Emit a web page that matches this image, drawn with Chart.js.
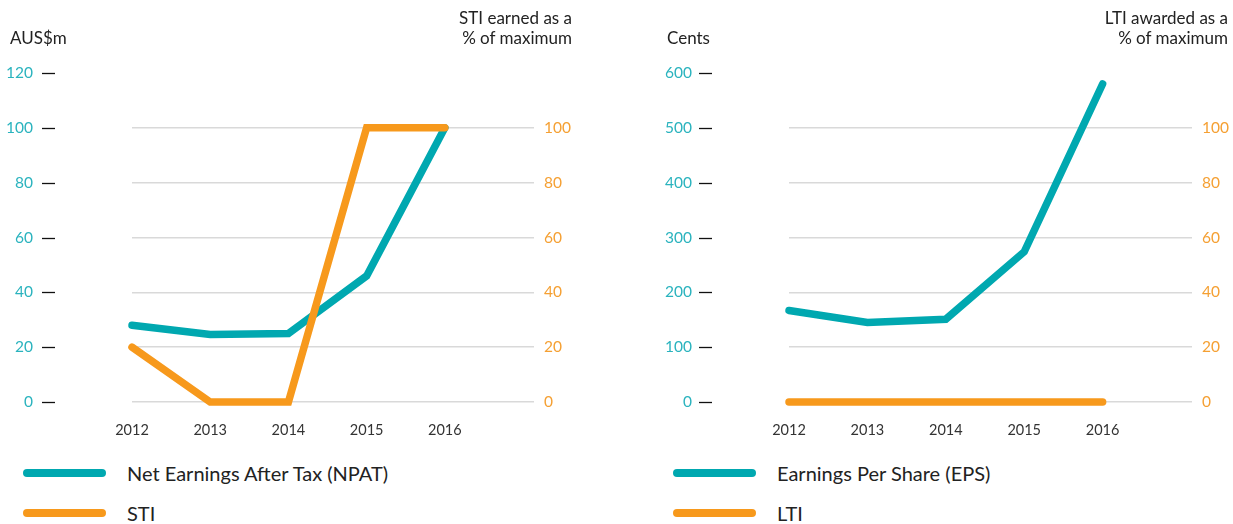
<!DOCTYPE html>
<html>
<head>
<meta charset="utf-8">
<script src="https://cdn.jsdelivr.net/npm/chart.js@4/dist/chart.umd.min.js"></script>
<style>
  html, body { margin: 0; padding: 0; background: #fff; }
  body { width: 1233px; height: 524px; position: relative; overflow: hidden; font-family: Lato, "Noto Sans", sans-serif; color: #222; }
  .cv { position: absolute; top: 0; }
  .title { position: absolute; font-size: 17px; line-height: 20px; color: #222; }
  .title.r { text-align: right; }
  .leg { position: absolute; font-size: 20px; color: #222; height: 24px; line-height: 24px; }
  .leg span { position: absolute; left: 0; top: 8px; width: 83px; height: 8px; border-radius: 4px; }
  .leg b { font-weight: normal; position: absolute; left: 104px; white-space: nowrap; }
</style>
</head>
<body>
<canvas id="c1" class="cv" width="616" height="450" style="left:0"></canvas>
<canvas id="c2" class="cv" width="617" height="450" style="left:616px"></canvas>

<div class="title" style="left:10px;top:28px">AUS$m</div>
<div class="title r" style="right:661px;top:8px">STI earned as a<br>% of maximum</div>
<div class="title" style="left:667px;top:28px">Cents</div>
<div class="title r" style="right:5px;top:8px">LTI awarded as a<br>% of maximum</div>

<div class="leg" style="left:23px;top:461px"><span style="background:#00A8B0"></span><b>Net Earnings After Tax (NPAT)</b></div>
<div class="leg" style="left:23px;top:501px"><span style="background:#F7991C"></span><b>STI</b></div>
<div class="leg" style="left:673px;top:461px"><span style="background:#00A8B0"></span><b>Earnings Per Share (EPS)</b></div>
<div class="leg" style="left:673px;top:501px"><span style="background:#F7991C"></span><b>LTI</b></div>

<script>
// data
const years = [2012, 2013, 2014, 2015, 2016];
const npat = [28, 24.6, 25, 46, 100];      // AUS$m
const sti = [20, 0, 0, 100, 100];          // % of max
const eps = [167, 145, 151, 274, 580];     // cents
const lti = [0, 0, 0, 0, 0];               // % of max
const pctTicks = [0, 20, 40, 60, 80, 100];

const TEAL = '#00A8B0';
const ORANGE = '#F7991C';

function pts(vals) {
  return years.map((y, i) => ({x: y, y: vals[i]}));
}

// little black dash to the right of each left-axis label
const dashPlugin = {
  id: 'dashes',
  afterDraw(chart) {
    const s = chart.scales.yl;
    const ctx = chart.ctx;
    const x0 = chart.chartArea.left - 90;
    ctx.save();
    ctx.strokeStyle = '#111';
    ctx.lineWidth = 1.3;
    s.ticks.forEach(t => {
      const y = Math.round(s.getPixelForValue(t.value)) + 0.5;
      ctx.beginPath();
      ctx.moveTo(x0, y);
      ctx.lineTo(x0 + 13, y);
      ctx.stroke();
    });
    ctx.restore();
  }
};

function makeChart(id, leftVals, rightVals, leftMax, leftStep, leftW, rightW, labelRight) {
  return new Chart(document.getElementById(id), {
    type: 'line',
    data: {
      datasets: [
        {data: pts(rightVals), yAxisID: 'yr', borderColor: ORANGE, order: 0, clip: false},
        {data: pts(leftVals), yAxisID: 'yl', borderColor: TEAL, order: 1, clip: false}
      ]
    },
    options: {
      responsive: false,
      animation: false,
      events: [],
      layout: {padding: {top: 73, left: 0, right: 0, bottom: 0}},
      elements: {
        line: {borderWidth: 7.5, borderCapStyle: 'round', borderJoinStyle: 'miter', tension: 0},
        point: {radius: 0}
      },
      plugins: {legend: {display: false}, tooltip: {enabled: false}},
      scales: {
        x: {
          type: 'linear', min: 2012, max: 2017.14,
          afterBuildTicks: s => { s.ticks = years.map(v => ({value: v})); },
          afterFit: s => { s.height = 450 - 402; },
          grid: {display: false}, border: {display: false},
          ticks: {color: '#333', font: {family: 'Lato', size: 14.5}, padding: 12, callback: v => String(v), maxRotation: 0}
        },
        yl: {
          position: 'left', min: 0, max: leftMax,
          afterFit: s => { s.width = leftW; },
          // invisible tick marks push the labels out to the left edge
          grid: {display: true, drawOnChartArea: false, drawTicks: true, tickLength: leftW - labelRight - 2, tickColor: 'rgba(0,0,0,0)'},
          border: {display: false},
          ticks: {stepSize: leftStep, color: '#2AB3BE', font: {family: 'Lato', size: 15.5}, padding: 2}
        },
        yr: {
          position: 'right', min: 0, max: 120,
          afterBuildTicks: s => { s.ticks = pctTicks.map(v => ({value: v})); },
          afterFit: s => { s.width = rightW; },
          grid: {color: '#d9d9d9', lineWidth: 1.6, drawTicks: false}, border: {display: false},
          ticks: {color: '#F5A033', font: {family: 'Lato', size: 15.5}, padding: 10}
        }
      }
    },
    plugins: [dashPlugin]
  });
}

makeChart('c1', npat, sti, 120, 20, 132, 616 - 534, 33);
makeChart('c2', eps, lti, 600, 100, 789 - 616, 617 - (1192 - 616), 692 - 616);
</script>
</body>
</html>
